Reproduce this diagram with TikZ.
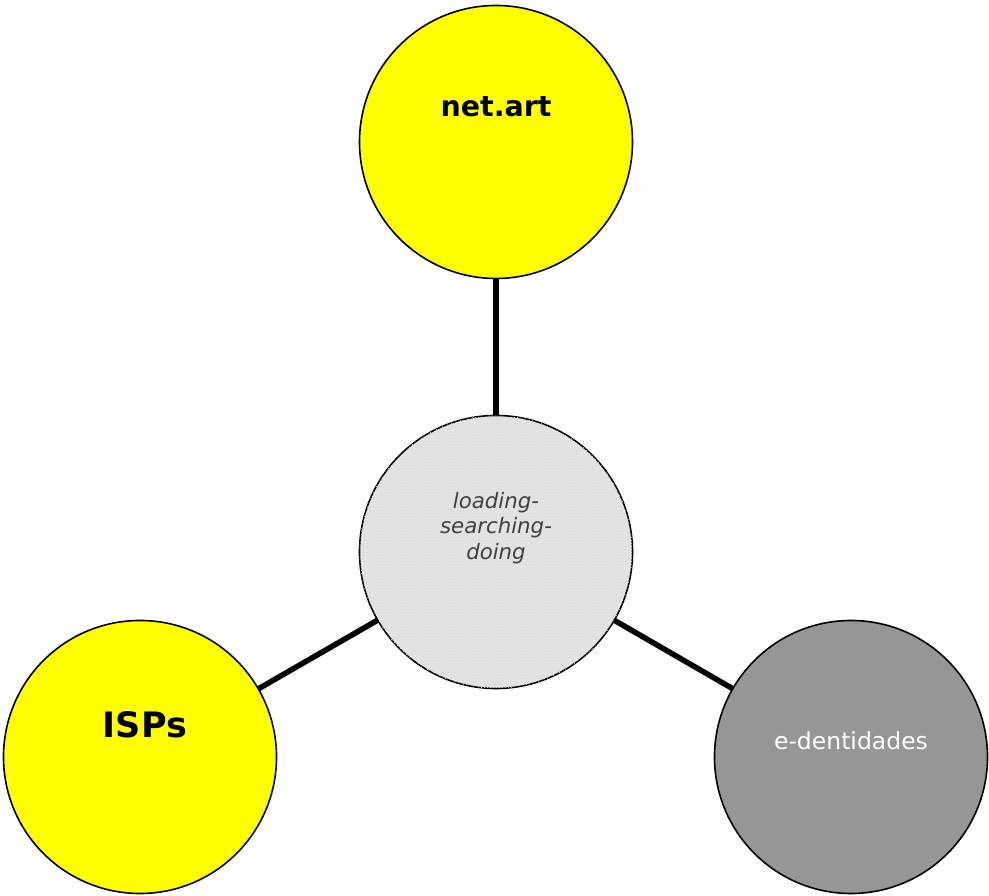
\documentclass[tikz,border=0pt]{standalone}
\usepackage{fontspec}
\setmainfont{DejaVu Sans}
\usepackage{xcolor}
\usepackage{tikz}
\usetikzlibrary{patterns}
\definecolor{ballyellow}{RGB}{255,255,0}
\definecolor{ballgray}{RGB}{150,150,150}
\definecolor{corefill}{RGB}{228,228,228}
\definecolor{coretext}{RGB}{64,64,64}
\tikzset{
	ball/.style={circle, draw=black, line width=1.6pt, minimum size=273pt, inner sep=0pt, outer sep=0pt},
	spoke/.style={line width=5.5pt},
	bigtext/.style={font=\bfseries\fontsize{#1}{#1}\selectfont, inner sep=0pt}
}

\begin{document}
\begin{tikzpicture}[x=1pt, y=1pt]

\useasboundingbox (0,0) rectangle (989,896);

\node[ball, fill=ballyellow] (netart) at (496,754) {};
\node[ball, fill=corefill, postaction={pattern=crosshatch dots, pattern color=white!70!gray}] (core) at (496,344) {};
\node[ball, fill=ballyellow] (isps) at (140,139) {};
\node[ball, fill=ballgray] (edent) at (851,139) {};

\draw[spoke] (netart) -- (core);
\draw[spoke] (isps) -- (core);
\draw[spoke] (edent) -- (core);

\node[bigtext=28.5] (netartlbl) at ([yshift=35]netart.center) {net.art};
\node[bigtext=35] (ispslbl) at ([xshift=5,yshift=32]isps.center) {ISPs};
\node[font=\fontsize{23.5}{23.5}\selectfont, text=white, inner sep=0pt] (edentlbl) at ([yshift=16]edent.center) {e-dentidades};
\node[font=\itshape\fontsize{21.3}{25.5}\selectfont, text=coretext, align=center, inner sep=0pt] (corelbl) at ([yshift=24]core.center) {loading-\\searching-\\doing};

\end{tikzpicture}
\end{document}
